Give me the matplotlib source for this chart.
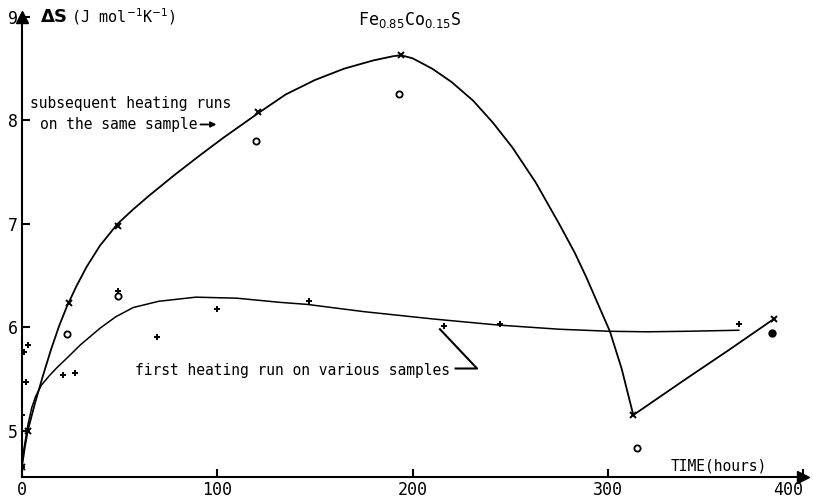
import numpy as np
import matplotlib.pyplot as plt

plt.rcParams['font.family'] = ['DejaVu Sans Mono', 'DejaVu Sans']

# subsequent heating runs on the same sample (x markers)
sub_t = [0, 3, 24, 49, 121, 194, 313, 385]
sub_s = [4.65, 5.0, 6.23, 6.98, 8.08, 8.63, 5.15, 6.08]

# open circles
circ_t = [23, 49, 120, 193, 315]
circ_s = [5.93, 6.30, 7.80, 8.25, 4.83]
# filled circle at the end
full_t = [384]
full_s = [5.94]

# first heating run on various samples (+ markers)
first_t = [0, 0, 1, 3, 2, 21, 27, 49, 69, 100, 147, 216, 245, 367]
first_s = [4.65, 5.15, 5.76, 5.83, 5.47, 5.54, 5.56, 6.35, 5.90, 6.18, 6.25, 6.01, 6.03, 6.03]

# hand drawn curve through the subsequent runs (traced)
curve_a_t = [0, 1.5, 3, 6.6, 10.9, 15, 19, 23, 28, 33, 40, 49, 57, 65, 78, 91, 103,
             115, 121, 135, 150, 165, 180, 190, 194, 200, 210, 220, 231, 241, 251,
             263, 275, 283, 289, 295, 301, 307, 313]
curve_a_s = [4.65, 4.84, 5.0, 5.26, 5.54, 5.79, 6.01, 6.2, 6.4, 6.58, 6.79, 7.0, 7.14,
             7.27, 7.47, 7.66, 7.83, 7.99, 8.07, 8.25, 8.39, 8.5, 8.58, 8.62, 8.63,
             8.6, 8.5, 8.37, 8.19, 7.98, 7.74, 7.4, 7.0, 6.72, 6.48, 6.22, 5.96,
             5.6, 5.15]
# straight segment to the last point
seg_t = [313, 340, 362, 385]
seg_s = [5.15, 5.50, 5.78, 6.08]

# hand drawn curve through the first runs (traced)
curve_b_t = [0, 1, 3, 5, 7, 10, 14, 18, 23, 30, 40, 48, 57, 70, 89, 110, 132, 146,
             175, 210, 244, 275, 301, 320, 340, 367]
curve_b_s = [4.68, 4.82, 5.05, 5.22, 5.33, 5.44, 5.53, 5.61, 5.70, 5.83, 5.99, 6.10,
             6.19, 6.25, 6.29, 6.28, 6.24, 6.22, 6.15, 6.08, 6.02, 5.98, 5.96, 5.955,
             5.96, 5.97]

fig = plt.figure(figsize=(8.13, 4.98), dpi=100)
ax = fig.add_axes([0.027, 0.042, 0.961, 0.924])

ax.plot(curve_a_t, curve_a_s, color='black', lw=1.3)
ax.plot(seg_t, seg_s, color='black', lw=1.3)
ax.plot(curve_b_t, curve_b_s, color='black', lw=1.1)

ax.plot(sub_t, sub_s, 'x', color='black', ms=5, mew=1.4)
ax.plot(circ_t, circ_s, 'o', mfc='white', mec='black', ms=4.5, mew=1.3)
ax.plot(full_t, full_s, 'o', color='black', ms=5)
ax.plot(first_t, first_s, '+', color='black', ms=5, mew=1.4)

ax.set_xlim(0, 400)
ax.set_ylim(4.55, 9)
ax.set_xticks([0, 100, 200, 300, 400])
ax.set_yticks([5, 6, 7, 8, 9])
ax.tick_params(direction='in', length=6, width=1.5, labelsize=12, pad=3)
ax.get_xticklabels()[-1].set_horizontalalignment('right')
for s in ['top', 'right']:
    ax.spines[s].set_visible(False)
for s in ['left', 'bottom']:
    ax.spines[s].set_linewidth(1.5)
ax.patch.set_alpha(0)

# arrow heads on axes
ax.plot(0, 9, marker='^', color='black', ms=8, clip_on=False)
ax.plot(400, 4.55, marker='>', color='black', ms=8, clip_on=False)

ax.text(9, 9.0, r'$\mathbf{\Delta S}$', fontsize=13, va='center', family='DejaVu Sans')
ax.text(25, 9.0, r'(J mol$^{-1}$K$^{-1}$)', fontsize=11, va='center')
ax.text(172, 8.97, r'Fe$_{0.85}$Co$_{0.15}$S', fontsize=12, va='center')
ax.text(332, 4.66, 'TIME(hours)', fontsize=10.5, va='center')

ax.text(4, 8.16, 'subsequent heating runs', fontsize=10.5, va='center')
ax.text(9, 7.96, 'on the same sample', fontsize=10.5, va='center')
ax.annotate('', xy=(101, 7.96), xytext=(90, 7.96),
            arrowprops=dict(arrowstyle='-|>', color='black', lw=1.3, mutation_scale=8))

ax.text(58, 5.58, 'first heating run on various samples', fontsize=10.5, va='center')
ax.plot([222, 233, 214], [5.6, 5.6, 5.98], color='black', lw=1.5)

fig.savefig('out.png', dpi=100)
